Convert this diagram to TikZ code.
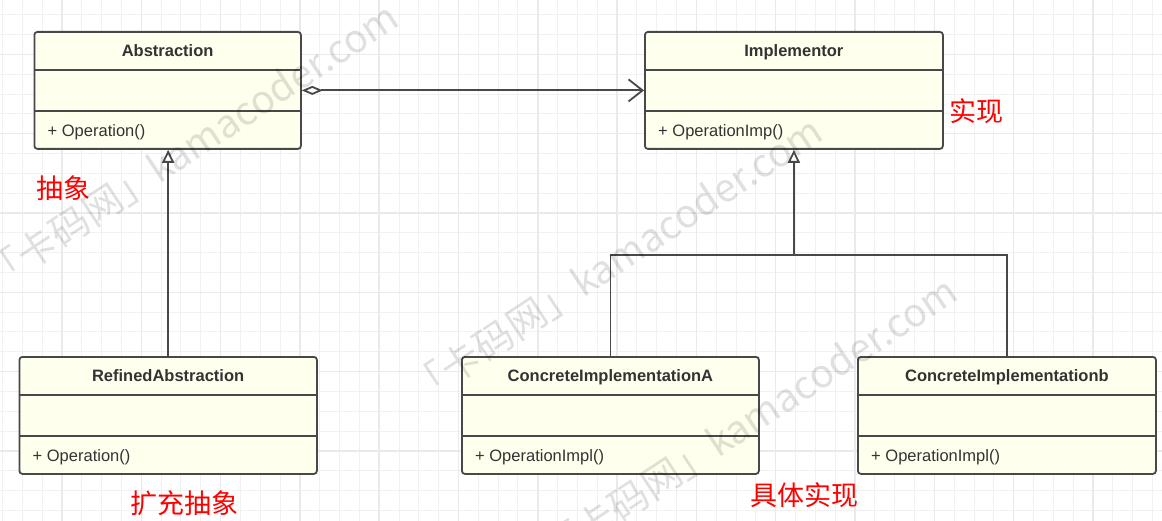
\documentclass[tikz,border=0pt]{standalone}
\usepackage{fontspec}
\setmainfont{Liberation Sans}
\newfontfamily\cjk{Noto Sans CJK SC}
\usetikzlibrary{arrows.meta,calc}
\definecolor{gridminor}{RGB}{241,241,241}
\definecolor{gridmajor}{RGB}{234,234,234}
\definecolor{boxfill}{RGB}{255,255,238}
\definecolor{boxline}{RGB}{72,72,72}
\definecolor{txt}{RGB}{51,51,51}
\definecolor{lbl}{RGB}{255,0,0}
\tikzset{
  umlframe/.style={draw=boxline, fill=boxfill, line width=1.8pt, rounded corners=3pt, inner sep=0pt},
  divider/.style={draw=boxline, line width=1.8pt},
  clstitle/.style={font=\fontsize{16.5}{18}\selectfont\bfseries, text=txt, inner sep=0pt, anchor=base},
  clsop/.style={font=\fontsize{16.5}{18}\selectfont, text=txt, inner sep=0pt, anchor=base west},
  conn/.style={draw=boxline, line width=1.8pt},
  redlbl/.style={font=\cjk\fontsize{27}{30}\selectfont, text=lbl, inner sep=0pt},
  wmark/.style={font=\cjk\fontsize{39}{42}\selectfont, text=black, text opacity=0.12, rotate=33.5, inner sep=0pt},
  minorgrid/.style={draw=gridminor, line width=1pt},
  majorgrid/.style={draw=gridmajor, line width=1.4pt},
}
\newcommand\umlclass[6]{%
  \node[umlframe, minimum width=#4pt, minimum height=117pt, anchor=north west] (#1) at (#2,#3) {};
  \draw[divider] ([yshift=-39pt]#1.north west) -- ([yshift=-39pt]#1.north east);
  \draw[divider] ([yshift=39pt]#1.south west) -- ([yshift=39pt]#1.south east);
  \node[clstitle] (#1-t) at ([yshift=-25.3pt]#1.north) {#5};
  \node[clsop] (#1-o) at ([xshift=14pt,yshift=13.6pt]#1.south west) {#6};
}
\begin{document}
\begin{tikzpicture}[x=1pt,y=-1pt]
\useasboundingbox (0,0) rectangle (1162,521);
\fill[white] (0,0) rectangle (1162,521);
% grid
\foreach \k in {0,...,58} \draw[minorgrid] ({2.4+19.83*\k},0) -- ({2.4+19.83*\k},521);
\foreach \k in {0,...,25} \draw[minorgrid] (0,{14.7+19.83*\k}) -- (1162,{14.7+19.83*\k});
\foreach \k in {0,...,14} \draw[majorgrid] ({61.9+79.32*\k},0) -- ({61.9+79.32*\k},521);
\foreach \k in {0,...,6} \draw[majorgrid] (0,{54.4+79.32*\k}) -- (1162,{54.4+79.32*\k});

% classes
\umlclass{abs}{33.5}{31}{266.5}{Abstraction}{+ Operation()}
\umlclass{impl}{644}{31}{298}{Implementor}{+ OperationImp()}
\umlclass{ra}{18.5}{356}{297.5}{RefinedAbstraction}{+ Operation()}
\umlclass{cia}{461}{356}{297}{ConcreteImplementationA}{+ OperationImpl()}
\umlclass{cib}{857}{356}{298}{ConcreteImplementationb}{+ OperationImpl()}

% connectors
\draw[conn, {Diamond[fill=white, length=21pt, width=9pt]}-{Straight Barb[length=14pt, width=22pt]}] (abs.east) -- (impl.west);
\draw[conn, -{Triangle[fill=white, length=13pt, width=12pt]}] (ra.north) -- (ra.north |- abs.south);
\path (impl.south) ++(0,105) coordinate (j);
\draw[conn] (cia.north) |- (j) -| (cib.north);
\draw[conn, -{Triangle[fill=white, length=13pt, width=12pt]}] (j) -- (impl.south);

% red labels
\node[redlbl] (l1) at (63,188) {抽象};
\node[redlbl] (l2) at (976.5,111) {实现};
\node[redlbl] (l3) at (184,503) {扩充抽象};
\node[redlbl] (l4) at (804,495) {具体实现};

% watermarks
\node[wmark] (w1) at (191,146) {「卡码网」kamacoder.com};
\node[wmark] (w2) at (615,260) {「卡码网」kamacoder.com};
\node[wmark] (w3) at (750,420) {「卡码网」kamacoder.com};
\end{tikzpicture}
\end{document}
